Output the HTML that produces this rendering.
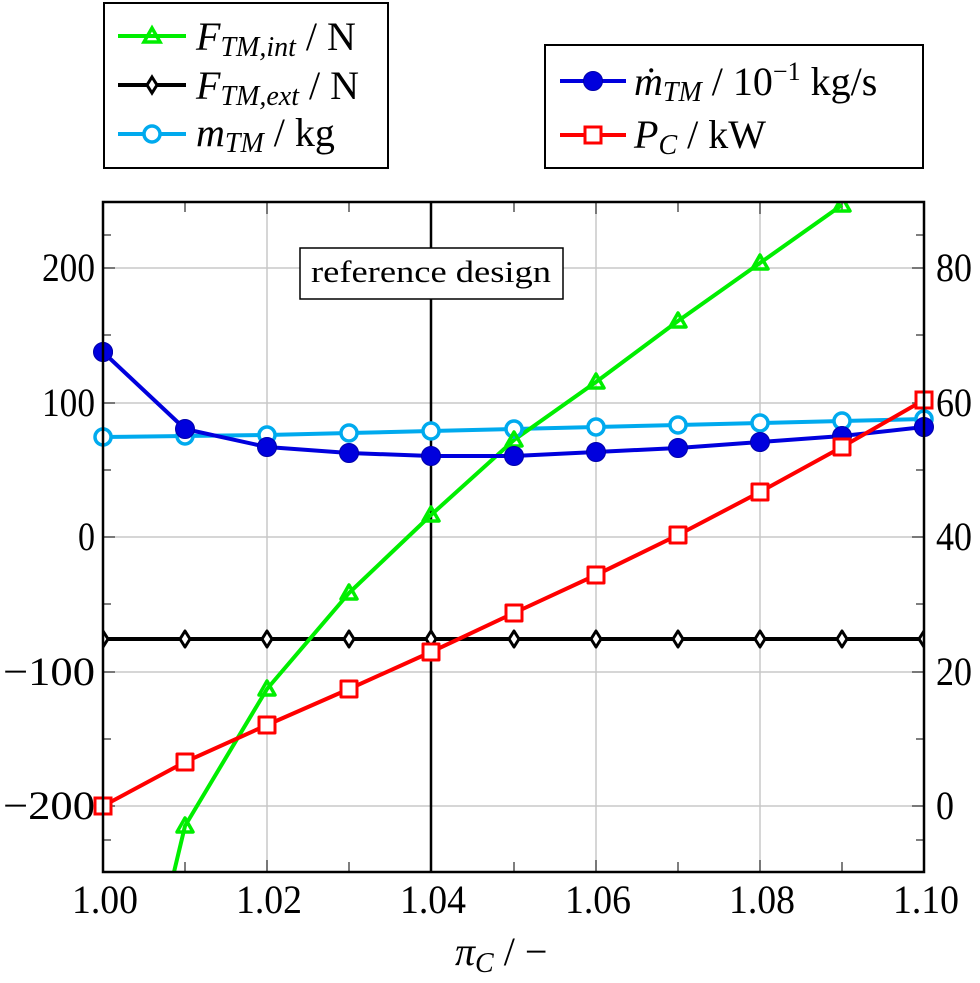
<!DOCTYPE html>
<html><head><meta charset="utf-8"><style>body{margin:0;background:#fff}svg{display:block}</style></head><body>
<svg width="980" height="983" xmlns="http://www.w3.org/2000/svg" font-family="Liberation Serif, serif">
<defs>
<g id="tri"><path d="M0,-8 L8,6 L-8,6 Z" fill="none" stroke="#00ee00" stroke-width="3.5"/></g>
<g id="dia"><path d="M0,-8 L5,0 L0,8 L-5,0 Z" fill="#fff" stroke="#000" stroke-width="3"/></g>
<g id="circ"><circle r="8" fill="#fff" stroke="#00aaee" stroke-width="3.5"/></g>
<g id="dot"><circle r="9.5" fill="#0000dd" stroke="#0000aa" stroke-width="1"/></g>
<g id="sq"><rect x="-8" y="-8" width="16" height="16" fill="#fff" stroke="#ff0000" stroke-width="3"/></g>
<clipPath id="cp"><rect x="103" y="202" width="821" height="670"/></clipPath>
</defs>
<g stroke="#c8c8c8" stroke-width="1.5">
<line x1="267" y1="202" x2="267" y2="872"/><line x1="431" y1="202" x2="431" y2="872"/><line x1="596" y1="202" x2="596" y2="872"/><line x1="760" y1="202" x2="760" y2="872"/>
<line x1="103" y1="268" x2="924" y2="268"/><line x1="103" y1="403" x2="924" y2="403"/><line x1="103" y1="537" x2="924" y2="537"/><line x1="103" y1="672" x2="924" y2="672"/><line x1="103" y1="806" x2="924" y2="806"/>
</g>
<g stroke="#555" stroke-width="1.5">
<path d="M185,872v-10M267,872v-12M349,872v-10M431,872v-12M514,872v-10M596,872v-12M678,872v-10M760,872v-12M842,872v-10
M185,202v10M267,202v12M349,202v10M431,202v12M514,202v10M596,202v12M678,202v10M760,202v12M842,202v10
M103,268h12M103,335h8M103,403h12M103,470h8M103,537h12M103,604h8M103,672h12M103,739h8M103,806h12M103,235h8M103,840h8
M924,268h-12M924,335h-8M924,403h-12M924,470h-8M924,537h-12M924,604h-8M924,672h-12M924,739h-8M924,806h-12M924,235h-8M924,840h-8"/>
</g>
<line x1="431" y1="202" x2="431" y2="872" stroke="#000" stroke-width="2.5"/>
<rect x="300" y="248" width="263" height="51" fill="#fff" stroke="#000" stroke-width="1.5"/>
<text x="431" y="282" font-size="31" text-anchor="middle" textLength="240" lengthAdjust="spacingAndGlyphs">reference design</text>
<g clip-path="url(#cp)" stroke-linejoin="round">
<polyline fill="none" stroke="#000" stroke-width="4" points="103,639 924,639"/>
<polyline fill="none" stroke="#00aaee" stroke-width="4" points="103,437 185,436 267,435 349,433 431,431 514,429 596,427 678,425 760,423 842,421 924,419"/>
<polyline fill="none" stroke="#00ee00" stroke-width="4" points="174,872 185,826 267,689 349,593 431,515 514,440 596,382 678,321 760,263 842,205"/>
<polyline fill="none" stroke="#0000dd" stroke-width="4" points="103,352 185,429 267,447 349,453 431,456 514,456 596,452 678,448 760,442 842,436 924,427"/>
<polyline fill="none" stroke="#ff0000" stroke-width="4" points="103,806 185,762 267,725 349,689 431,652 514,613 596,575 678,535 760,492 842,447 924,400"/>
<g><use href="#dia" x="103" y="639"/><use href="#dia" x="185" y="639"/><use href="#dia" x="267" y="639"/><use href="#dia" x="349" y="639"/><use href="#dia" x="431" y="639"/><use href="#dia" x="514" y="639"/><use href="#dia" x="596" y="639"/><use href="#dia" x="678" y="639"/><use href="#dia" x="760" y="639"/><use href="#dia" x="842" y="639"/><use href="#dia" x="924" y="639"/></g>
<g><use href="#circ" x="103" y="437"/><use href="#circ" x="185" y="436"/><use href="#circ" x="267" y="435"/><use href="#circ" x="349" y="433"/><use href="#circ" x="431" y="431"/><use href="#circ" x="514" y="429"/><use href="#circ" x="596" y="427"/><use href="#circ" x="678" y="425"/><use href="#circ" x="760" y="423"/><use href="#circ" x="842" y="421"/><use href="#circ" x="924" y="419"/></g>
<g><use href="#tri" x="185" y="826"/><use href="#tri" x="267" y="689"/><use href="#tri" x="349" y="593"/><use href="#tri" x="431" y="515"/><use href="#tri" x="514" y="440"/><use href="#tri" x="596" y="382"/><use href="#tri" x="678" y="321"/><use href="#tri" x="760" y="263"/><use href="#tri" x="842" y="205"/></g>
<g><use href="#dot" x="103" y="352"/><use href="#dot" x="185" y="429"/><use href="#dot" x="267" y="447"/><use href="#dot" x="349" y="453"/><use href="#dot" x="431" y="456"/><use href="#dot" x="514" y="456"/><use href="#dot" x="596" y="452"/><use href="#dot" x="678" y="448"/><use href="#dot" x="760" y="442"/><use href="#dot" x="842" y="436"/><use href="#dot" x="924" y="427"/></g>
<g><use href="#sq" x="103" y="806"/><use href="#sq" x="185" y="762"/><use href="#sq" x="267" y="725"/><use href="#sq" x="349" y="689"/><use href="#sq" x="431" y="652"/><use href="#sq" x="514" y="613"/><use href="#sq" x="596" y="575"/><use href="#sq" x="678" y="535"/><use href="#sq" x="760" y="492"/><use href="#sq" x="842" y="447"/><use href="#sq" x="924" y="400"/></g>
</g>
<use href="#circ" x="924" y="419"/><use href="#dot" x="924" y="427"/><use href="#sq" x="924" y="400"/><use href="#dot" x="103" y="352"/><use href="#circ" x="103" y="437"/><use href="#sq" x="103" y="806"/>
<rect x="103" y="202" width="821" height="670" fill="none" stroke="#000" stroke-width="2.5"/>
<g font-size="40" text-anchor="middle">
<text x="105" y="913" textLength="66" lengthAdjust="spacingAndGlyphs">1.00</text><text x="269" y="913" textLength="66" lengthAdjust="spacingAndGlyphs">1.02</text><text x="433" y="913" textLength="66" lengthAdjust="spacingAndGlyphs">1.04</text><text x="598" y="913" textLength="66" lengthAdjust="spacingAndGlyphs">1.06</text><text x="762" y="913" textLength="66" lengthAdjust="spacingAndGlyphs">1.08</text><text x="926" y="913" textLength="66" lengthAdjust="spacingAndGlyphs">1.10</text>
</g>
<g font-size="40">
<text x="42" y="281" textLength="53" lengthAdjust="spacingAndGlyphs">200</text>
<text x="42" y="416" textLength="53" lengthAdjust="spacingAndGlyphs">100</text>
<text x="78" y="550" textLength="17" lengthAdjust="spacingAndGlyphs">0</text>
<text x="3" y="685" textLength="92" lengthAdjust="spacingAndGlyphs">−100</text>
<text x="3" y="819" textLength="92" lengthAdjust="spacingAndGlyphs">−200</text>
<text x="936" y="281" textLength="36" lengthAdjust="spacingAndGlyphs">80</text>
<text x="936" y="416" textLength="36" lengthAdjust="spacingAndGlyphs">60</text>
<text x="936" y="550" textLength="36" lengthAdjust="spacingAndGlyphs">40</text>
<text x="936" y="685" textLength="36" lengthAdjust="spacingAndGlyphs">20</text>
<text x="936" y="819" textLength="18" lengthAdjust="spacingAndGlyphs">0</text>
</g>
<text x="455" y="965" font-size="40"><tspan font-style="italic">π</tspan><tspan font-style="italic" font-size="28" dy="7">C</tspan><tspan dy="-7"> / −</tspan></text>
<rect x="104" y="3" width="284" height="165" fill="#fff" stroke="#000" stroke-width="2"/>
<line x1="118" y1="36" x2="186" y2="36" stroke="#00ee00" stroke-width="4"/><use href="#tri" x="152" y="36"/>
<line x1="118" y1="85" x2="186" y2="85" stroke="#000" stroke-width="4"/><use href="#dia" x="152" y="85"/>
<line x1="118" y1="134" x2="186" y2="134" stroke="#00aaee" stroke-width="4"/><use href="#circ" x="152" y="134"/>
<g font-size="40">
<text x="196" y="50"><tspan font-style="italic">F</tspan><tspan font-style="italic" font-size="28" dy="6">TM,int</tspan><tspan dy="-6"> / N</tspan></text>
<text x="196" y="99"><tspan font-style="italic">F</tspan><tspan font-style="italic" font-size="28" dy="6">TM,ext</tspan><tspan dy="-6"> / N</tspan></text>
<text x="196" y="146"><tspan font-style="italic">m</tspan><tspan font-style="italic" font-size="28" dy="6">TM</tspan><tspan dy="-6"> / kg</tspan></text>
</g>
<rect x="545" y="45" width="378" height="123" fill="#fff" stroke="#000" stroke-width="2"/>
<line x1="560" y1="81" x2="626" y2="81" stroke="#0000dd" stroke-width="4"/><use href="#dot" x="593" y="81"/>
<line x1="560" y1="135" x2="626" y2="135" stroke="#ff0000" stroke-width="4"/><use href="#sq" x="593" y="135"/>
<g font-size="40">
<text x="634" y="95"><tspan font-style="italic">ṁ</tspan><tspan font-style="italic" font-size="28" dy="6">TM</tspan><tspan dy="-6"> / 10</tspan><tspan font-size="26" dy="-15">−1</tspan><tspan dy="15"> kg/s</tspan></text>
<text x="634" y="148"><tspan font-style="italic">P</tspan><tspan font-style="italic" font-size="28" dy="6">C</tspan><tspan dy="-6"> / kW</tspan></text>
</g>
</svg>
</body></html>
